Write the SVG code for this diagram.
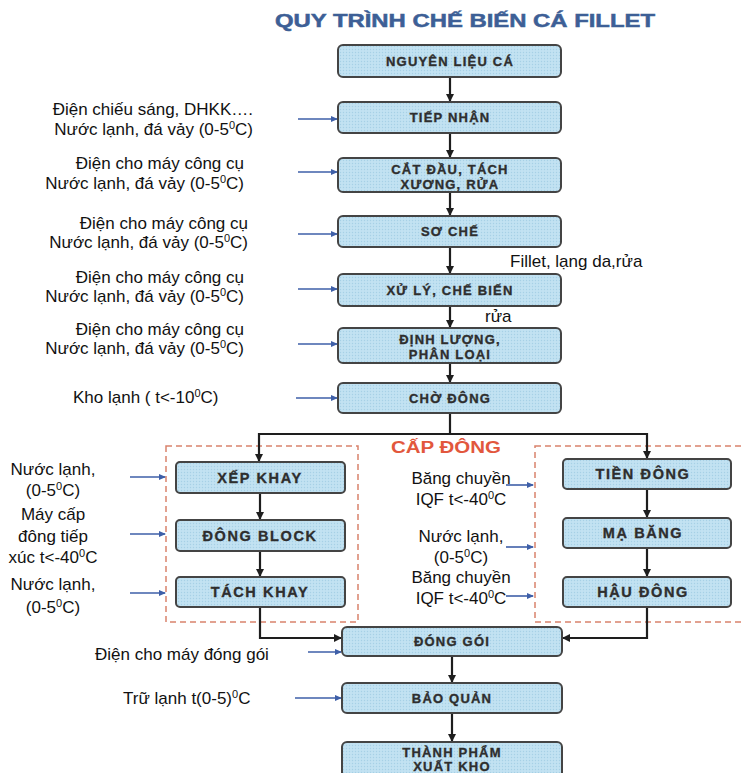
<svg xmlns="http://www.w3.org/2000/svg" width="744" height="773" viewBox="0 0 744 773">
<defs>
<pattern id="dots" width="3" height="3" patternUnits="userSpaceOnUse">
<rect width="3" height="3" fill="#c2e2f2"/>
<circle cx="1.5" cy="1.5" r="0.7" fill="#a6d0e6"/>
</pattern>
<marker id="ah" markerWidth="8" markerHeight="8" refX="7" refY="4" orient="auto" markerUnits="userSpaceOnUse">
<path d="M0,0 L8,4 L0,8 Z" fill="#1e1e1e"/>
</marker>
<marker id="bh" markerWidth="7" markerHeight="6" refX="6" refY="3" orient="auto" markerUnits="userSpaceOnUse">
<path d="M0,0 L7,3 L0,6 Z" fill="#3e5fa8"/>
</marker>
</defs>
<style>
.box{fill:url(#dots);stroke:#444;stroke-width:2}
.bt{font-family:"Liberation Sans",Arial,sans-serif;font-weight:bold;font-size:13px;fill:#2e2e2e;stroke:#2e2e2e;stroke-width:0.35;text-anchor:middle;letter-spacing:1.2px}
.bt2{font-family:"Liberation Sans",Arial,sans-serif;font-weight:bold;font-size:14.5px;fill:#2e2e2e;stroke:#2e2e2e;stroke-width:0.35;text-anchor:middle;letter-spacing:1.6px}
.lb{font-family:"Liberation Sans",Arial,sans-serif;font-size:17px;fill:#111}
.end{text-anchor:end}
.mid{text-anchor:middle}
.sup{font-size:11px}
.flow{fill:none;stroke:#1e1e1e;stroke-width:2.2}
.inp{fill:none;stroke:#3e5fa8;stroke-width:1.6}
.dash{fill:none;stroke:#d9826c;stroke-width:1.5;stroke-dasharray:6 4}
</style>
<rect width="744" height="773" fill="#ffffff"/>
<text x="465" y="27" font-family="Liberation Sans,Arial,sans-serif" font-weight="bold" font-size="18" fill="#3d5f96" stroke="#3d5f96" stroke-width="0.5" text-anchor="middle" textLength="380" lengthAdjust="spacingAndGlyphs">QUY TRÌNH CHẾ BIẾN CÁ FILLET</text>

<rect class="dash" x="166" y="446" width="192" height="176"/>
<rect class="dash" x="535" y="446" width="215" height="176"/>
<text x="446" y="453" font-family="Liberation Sans,Arial,sans-serif" font-weight="bold" font-size="16" fill="#e2573d" text-anchor="middle" textLength="110" lengthAdjust="spacingAndGlyphs">CẤP ĐÔNG</text>

<g id="connectors">
<path class="flow" d="M450 77 V101" marker-end="url(#ah)"/>
<path class="flow" d="M450 133 V157" marker-end="url(#ah)"/>
<path class="flow" d="M450 192 V215" marker-end="url(#ah)"/>
<path class="flow" d="M450 247 V273" marker-end="url(#ah)"/>
<path class="flow" d="M450 306 V327" marker-end="url(#ah)"/>
<path class="flow" d="M450 363 V382" marker-end="url(#ah)"/>
<path class="flow" d="M450 413 V434 M258 434 H647"/>
<path class="flow" d="M259 433 V461" marker-end="url(#ah)"/>
<path class="flow" d="M647 433 V458" marker-end="url(#ah)"/>
<path class="flow" d="M260 493 V519" marker-end="url(#ah)"/>
<path class="flow" d="M260 551 V576" marker-end="url(#ah)"/>
<path class="flow" d="M260 607 V638 H341" marker-end="url(#ah)"/>
<path class="flow" d="M647 489 V517" marker-end="url(#ah)"/>
<path class="flow" d="M647 548 V576" marker-end="url(#ah)"/>
<path class="flow" d="M647 607 V638 H563" marker-end="url(#ah)"/>
<path class="flow" d="M452 656 V682" marker-end="url(#ah)"/>
<path class="flow" d="M452 713 V741" marker-end="url(#ah)"/>

<path class="inp" d="M298 119 H337" marker-end="url(#bh)"/>
<path class="inp" d="M298 172 H337" marker-end="url(#bh)"/>
<path class="inp" d="M298 234 H337" marker-end="url(#bh)"/>
<path class="inp" d="M298 289 H337" marker-end="url(#bh)"/>
<path class="inp" d="M298 344 H337" marker-end="url(#bh)"/>
<path class="inp" d="M296 398 H337" marker-end="url(#bh)"/>
<path class="inp" d="M130 477 H165" marker-end="url(#bh)"/>
<path class="inp" d="M130 534 H165" marker-end="url(#bh)"/>
<path class="inp" d="M130 593 H165" marker-end="url(#bh)"/>
<path class="inp" d="M506 485 H533" marker-end="url(#bh)"/>
<path class="inp" d="M506 547 H533" marker-end="url(#bh)"/>
<path class="inp" d="M506 596 H533" marker-end="url(#bh)"/>
<path class="inp" d="M308 652 H341" marker-end="url(#bh)"/>
<path class="inp" d="M295 698 H341" marker-end="url(#bh)"/>
</g>

<g id="n1"><rect class="box" x="338" y="45" width="223" height="32" rx="5"/><text class="bt" x="450" y="66">NGUYÊN LIỆU CÁ</text></g>
<g id="n2"><rect class="box" x="338" y="102" width="223" height="31" rx="5"/><text class="bt" x="450" y="122">TIẾP NHẬN</text></g>
<g id="n3"><rect class="box" x="338" y="158" width="223" height="34" rx="5"/><text class="bt" x="450" y="174">CẮT ĐẦU, TÁCH</text><text class="bt" x="450" y="189">XƯƠNG, RỬA</text></g>
<g id="n4"><rect class="box" x="338" y="216" width="223" height="31" rx="5"/><text class="bt" x="450" y="236">SƠ CHẾ</text></g>
<g id="n5"><rect class="box" x="338" y="274" width="223" height="32" rx="5"/><text class="bt" x="450" y="295">XỬ LÝ, CHẾ BIẾN</text></g>
<g id="n6"><rect class="box" x="338" y="328" width="223" height="35" rx="5"/><text class="bt" x="450" y="344">ĐỊNH LƯỢNG,</text><text class="bt" x="450" y="359">PHÂN LOẠI</text></g>
<g id="n7"><rect class="box" x="338" y="383" width="223" height="30" rx="5"/><text class="bt" x="450" y="403">CHỜ ĐÔNG</text></g>

<g id="n8"><rect class="box" x="176" y="462" width="169" height="31" rx="4"/><text class="bt2" x="260" y="483">XẾP KHAY</text></g>
<g id="n9"><rect class="box" x="176" y="520" width="169" height="31" rx="4"/><text class="bt2" x="260" y="541">ĐÔNG BLOCK</text></g>
<g id="n10"><rect class="box" x="176" y="577" width="169" height="30" rx="4"/><text class="bt2" x="260" y="597">TÁCH KHAY</text></g>

<g id="n11"><rect class="box" x="563" y="459" width="168" height="30" rx="4"/><text class="bt2" x="643" y="479">TIỀN ĐÔNG</text></g>
<g id="n12"><rect class="box" x="563" y="518" width="168" height="30" rx="4"/><text class="bt2" x="643" y="538">MẠ BĂNG</text></g>
<g id="n13"><rect class="box" x="563" y="577" width="168" height="30" rx="4"/><text class="bt2" x="643" y="597">HẬU ĐÔNG</text></g>

<g id="n14"><rect class="box" x="342" y="627" width="220" height="29" rx="5"/><text class="bt" x="452" y="646">ĐÓNG GÓI</text></g>
<g id="n15"><rect class="box" x="342" y="683" width="220" height="30" rx="5"/><text class="bt" x="452" y="703">BẢO QUẢN</text></g>
<g id="n16"><rect class="box" x="342" y="742" width="220" height="36" rx="5"/><text class="bt" x="452" y="757">THÀNH PHẨM</text><text class="bt" x="452" y="771">XUẤT KHO</text></g>

<g id="labels">
<text class="lb end" x="253" y="115">Điện chiếu sáng, DHKK….</text>
<text class="lb end" x="253" y="135">Nước lạnh, đá vảy (0-5<tspan class="sup" dy="-6">0</tspan><tspan dy="6">C)</tspan></text>
<text class="lb end" x="244" y="169">Điện cho máy công cụ</text>
<text class="lb end" x="244" y="189">Nước lạnh, đá vảy (0-5<tspan class="sup" dy="-6">0</tspan><tspan dy="6">C)</tspan></text>
<text class="lb end" x="248" y="229">Điện cho máy công cụ</text>
<text class="lb end" x="248" y="248">Nước lạnh, đá vảy (0-5<tspan class="sup" dy="-6">0</tspan><tspan dy="6">C)</tspan></text>
<text class="lb end" x="244" y="283">Điện cho máy công cụ</text>
<text class="lb end" x="244" y="302">Nước lạnh, đá vảy (0-5<tspan class="sup" dy="-6">0</tspan><tspan dy="6">C)</tspan></text>
<text class="lb end" x="244" y="335">Điện cho máy công cụ</text>
<text class="lb end" x="244" y="354">Nước lạnh, đá vảy (0-5<tspan class="sup" dy="-6">0</tspan><tspan dy="6">C)</tspan></text>
<text class="lb" x="73" y="403">Kho lạnh ( t&lt;-10<tspan class="sup" dy="-6">0</tspan><tspan dy="6">C)</tspan></text>
<text class="lb" x="510" y="267">Fillet, lạng da,rửa</text>
<text class="lb" x="485" y="322">rửa</text>

<text class="lb mid" x="53" y="475">Nước lạnh,</text>
<text class="lb mid" x="53" y="496">(0-5<tspan class="sup" dy="-6">0</tspan><tspan dy="6">C)</tspan></text>
<text class="lb mid" x="53" y="520">Máy cấp</text>
<text class="lb mid" x="53" y="542">đông tiếp</text>
<text class="lb mid" x="53" y="563">xúc t&lt;-40<tspan class="sup" dy="-6">0</tspan><tspan dy="6">C</tspan></text>
<text class="lb mid" x="53" y="590">Nước lạnh,</text>
<text class="lb mid" x="53" y="613">(0-5<tspan class="sup" dy="-6">0</tspan><tspan dy="6">C)</tspan></text>

<text class="lb mid" x="461" y="484">Băng chuyền</text>
<text class="lb mid" x="461" y="505">IQF t&lt;-40<tspan class="sup" dy="-6">0</tspan><tspan dy="6">C</tspan></text>
<text class="lb mid" x="461" y="542">Nước lạnh,</text>
<text class="lb mid" x="461" y="563">(0-5<tspan class="sup" dy="-6">0</tspan><tspan dy="6">C)</tspan></text>
<text class="lb mid" x="461" y="583">Băng chuyền</text>
<text class="lb mid" x="461" y="604">IQF t&lt;-40<tspan class="sup" dy="-6">0</tspan><tspan dy="6">C</tspan></text>

<text class="lb" x="95" y="660">Điện cho máy đóng gói</text>
<text class="lb" x="123" y="704">Trữ lạnh t(0-5)<tspan class="sup" dy="-6">0</tspan><tspan dy="6">C</tspan></text>
</g>
</svg>
